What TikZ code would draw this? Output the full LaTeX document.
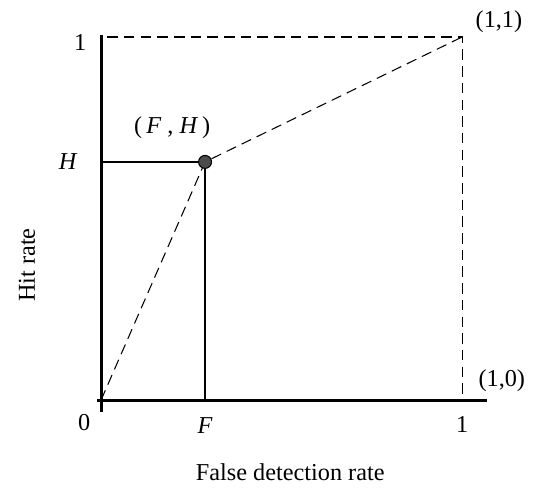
\documentclass[tikz,border=0pt]{standalone}
\usepackage{fontspec}
\setmainfont{Liberation Serif}
\tikzset{
  achse/.style={line width=1.7pt},
  hilfslinie/.style={line width=0.8pt},
  kurve/.style={line width=0.6pt, dash pattern=on 6pt off 3.5pt},
  beschriftung/.style={font=\fontsize{13.8}{16}\selectfont, inner sep=0pt}
}
\begin{document}
\begin{tikzpicture}[x=7.22cm, y=7.26cm]

  \useasboundingbox (-0.28,-0.251) rectangle (1.213,1.102);

  % Punkte
  \coordinate (O) at (0,0);
  \coordinate (P) at (0.288,0.656);
  \coordinate (E) at (1,1);
  \coordinate (X) at (1,0);
  \coordinate (Fp) at (0.288,0);
  \coordinate (Hp) at (0,0.656);
  \coordinate (T) at (0.017,1);

  % Achsen
  \draw[achse] (0,-0.033) -- (0,1.006);
  \draw[achse] (-0.011,0) -- (1.07,0);

  % Hilfslinien
  \draw[hilfslinie] (Hp) -- (P);
  \draw[hilfslinie] (Fp) -- (P);

  % gestrichelte Kurve
  \draw[kurve] (O) -- (P) -- (E);
  \draw[kurve] (T) -- (E) -- (X);

  % Punkt (F,H)
  \node[circle, draw, line width=0.6pt, fill=black!70, minimum size=0.26cm, inner sep=0pt] (pkt) at (P) {};

  % Beschriftungen
  \node[beschriftung] (l1) at (-0.058,0.985) {1};
  \node[beschriftung] (lH) at (-0.091,0.656) {\textit{H}};
  \node[beschriftung] (l0) at (-0.047,-0.063) {0};
  \node[beschriftung] (lF) at (0.288,-0.069) {\textit{F}};
  \node[beschriftung] (lx1) at (1,-0.066) {1};
  \node[beschriftung] (e11) at (1.102,1.041) {(1,1)};
  \node[beschriftung] (e10) at (1.11,0.052) {(1,0)};
  \node[beschriftung] (lFH) at (0.197,0.749) {(\,\textit{F}\ ,\ \textit{H}\,)};
  \node[beschriftung, rotate=90] (ly) at (-0.205,0.372) {Hit rate};
  \node[beschriftung] (lx) at (0.524,-0.2) {False detection rate};

\end{tikzpicture}
\end{document}
